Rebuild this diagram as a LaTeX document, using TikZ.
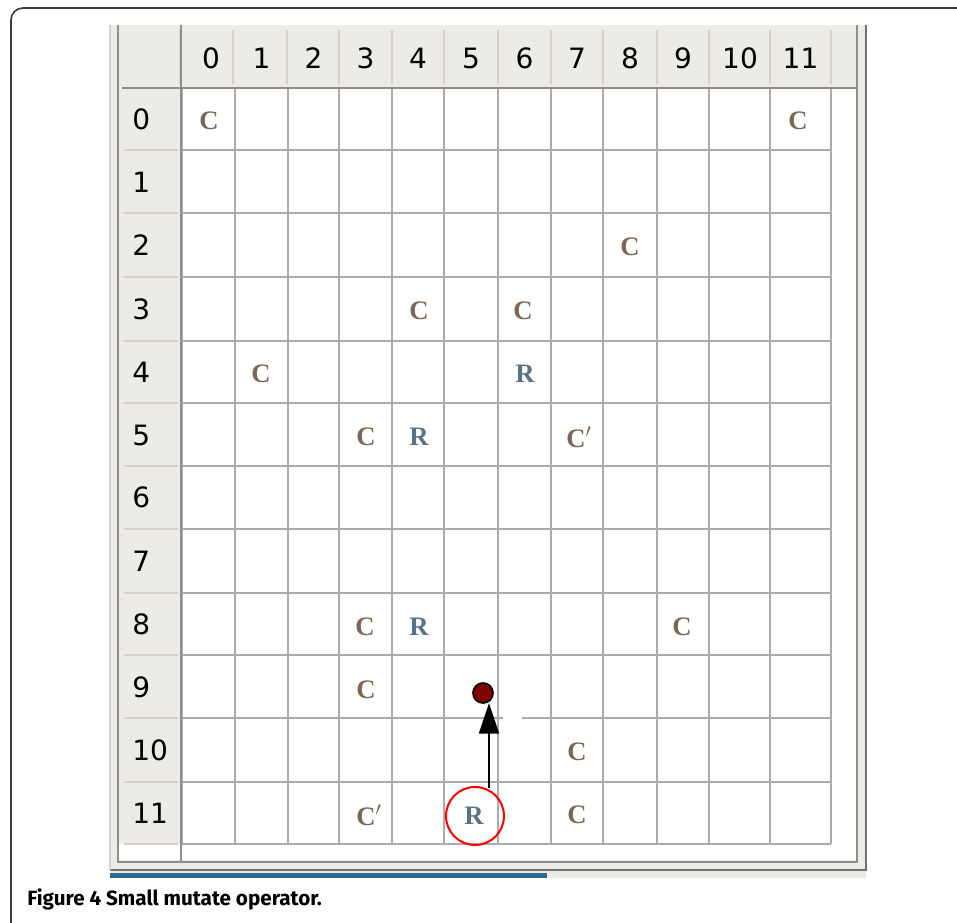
\documentclass[tikz,border=0pt]{standalone}
\usepackage{fontspec}
\newfontfamily\numf{DejaVu Sans}
\newfontfamily\serf{Liberation Serif}
\newfontfamily\capf{Fira Sans}
\usetikzlibrary{arrows.meta}
\definecolor{hdrbg}{HTML}{EDEBE6}
\definecolor{gridc}{HTML}{ABABAB}
\definecolor{hsep}{HTML}{D6D2CA}
\definecolor{pborder}{HTML}{8E8E8E}
\definecolor{cbrown}{HTML}{7C6757}
\definecolor{rblue}{HTML}{5A7285}
\definecolor{dotred}{HTML}{800000}
\definecolor{barblue}{HTML}{31688F}
\definecolor{framec}{HTML}{3A3A3A}
\tikzset{
  hdrnum/.style={font=\numf\fontsize{21}{24}\selectfont, text=black, inner sep=0pt},
  cmark/.style={font=\serf\bfseries\fontsize{20}{22}\selectfont, text=cbrown, inner sep=0pt},
  rmark/.style={font=\serf\bfseries\fontsize{20}{22}\selectfont, text=rblue, inner sep=0pt},
  gridline/.style={draw=gridc, line width=0.9pt},
  sepline/.style={draw=hsep, line width=0.9pt},
}
\begin{document}
\begin{tikzpicture}[x=0.75pt,y=-0.75pt]
\useasboundingbox (0,0) rectangle (957,923);
% outer frame (top and left only visible)
\draw[framec, line width=1.2pt, rounded corners=9pt] (11,923) -- (11,8) -- (957,8);
% screenshot panel
\fill[hdrbg] (110,25) rectangle (866,878);
\fill[white] (182,88) rectangle (857,860);
\fill[white] (118,844) rectangle (182,860);
\draw[pborder, line width=0.9pt] (118,25) -- (118,862) -- (857,862) -- (857,25);
\draw[pborder!80!black, line width=1pt] (866,25) -- (866,870) -- (110,870);
\draw[hsep, line width=0.8pt] (110,25) -- (110,870);
\fill[barblue] (110,873) rectangle (547,878);
% header separators
\foreach \x in {180,233,287,339,392,444,498,551,603,657,709,770,831}
  \draw[sepline] (\x,30) -- (\x,84);
\foreach \y in {150,213,277,341,403,466,529,593,655,718,782,844}
  \draw[sepline] (124,\y) -- (178,\y);
% grid
\foreach \x in {182,235,288,339,392,444,498,551,603,657,709,770,831}
  \draw[gridline] (\x,88) -- (\x,844);
\foreach \y in {150,213,277,341,403,466,529,593,655,718,782,844}
  \draw[gridline] (182,\y) -- (831,\y);
\draw[pborder, line width=1.2pt] (122,88) -- (857,88);
\draw[pborder, line width=1pt] (181,25) -- (181,862);
% gap in the line between rows 9 and 10
\draw[white, line width=2pt] (503,718) -- (522,718);
% column headers
\foreach \i/\cx in {0/211,1/261.5,2/313.5,3/365.5,4/418,5/471,6/524.5,7/577,8/630,9/683,10/740,11/800.5}
  \node[hdrnum] (col\i) at (\cx,58) {\i};
% row headers
\foreach \i/\cy in {0/119,1/182,2/245,3/309,4/372,5/435,6/497.5,7/561,8/624,9/687,10/750,11/813}
  \node[hdrnum, anchor=west] (row\i) at (132,\cy) {\i};
% cell contents
\node[cmark] (c00) at (209,121) {C};
\node[cmark] (c011) at (798,121) {C};
\node[cmark] (c28) at (630,247) {C};
\node[cmark] (c34) at (419,311) {C};
\node[cmark] (c36) at (523,311) {C};
\node[cmark] (c41) at (261,374) {C};
\node[rmark] (r46) at (525,374) {R};
\node[cmark] (c53) at (366,437) {C};
\node[rmark] (r54) at (419,437) {R};
\node[cmark] (c57) at (579,437) {C$^{\prime}$};
\node[cmark] (c83) at (365,627) {C};
\node[rmark] (r84) at (419,627) {R};
\node[cmark] (c89) at (682,627) {C};
\node[cmark] (c93) at (366,690) {C};
\node[cmark] (c107) at (577,752) {C};
\node[cmark] (c113) at (369,815) {C$^{\prime}$};
\node[rmark] (r115) at (474,816) {R};
\node[cmark] (c117) at (577,815) {C};
% mutation marks
\node[draw=red, line width=1.5pt, circle, minimum size=58*0.75pt, inner sep=0pt] (circ) at (475,816) {};
\node[draw=black, fill=dotred, line width=1.3pt, circle, minimum size=20*0.75pt, inner sep=0pt] (dot) at (483,693) {};
\coordinate (astart) at (489,788);
\coordinate (aend) at (489,703);
\draw[line width=1.5pt, -{Triangle[width=15pt,length=23pt]}] (astart) -- (aend);
% caption
\node[anchor=base west, inner sep=0pt, font=\capf\bfseries\fontsize{15.5}{17}\selectfont] (cap) at (27,905) {Figure 4 Small mutate operator.};
\end{tikzpicture}
\end{document}
